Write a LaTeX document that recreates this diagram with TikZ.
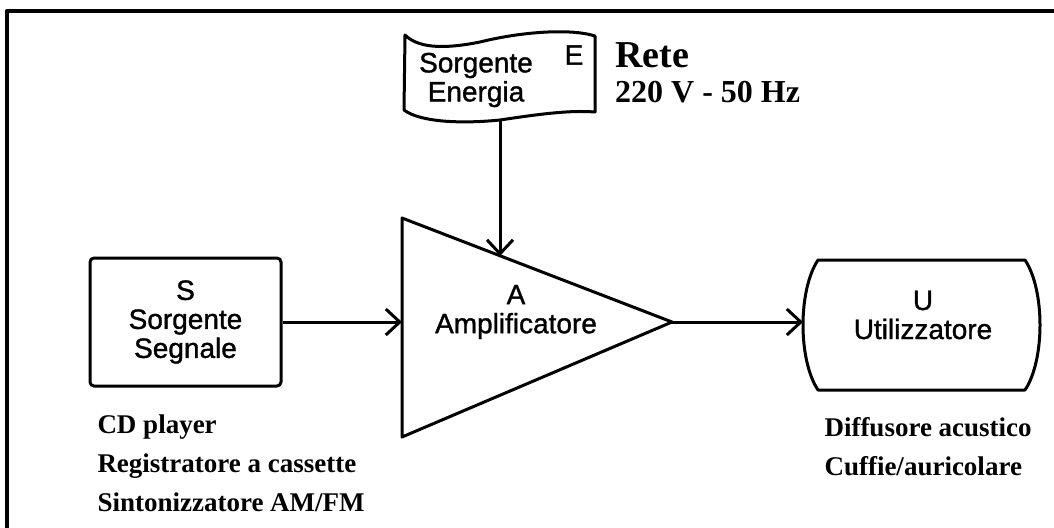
\documentclass[tikz,border=0pt]{standalone}
\usepackage{fontspec}
\setmainfont{Liberation Serif}
\newfontfamily\sansblocchi[FakeBold=1.2]{Liberation Sans}
\usetikzlibrary{arrows.meta}
\tikzset{
  freccia/.style={-{Straight Barb[length=7pt,width=13pt]}},
  blocco/.style={font=\sansblocchi\fontsize{14}{14.5}\selectfont,align=center},
  nota/.style={font=\bfseries\fontsize{13.5}{19.5}\selectfont,align=left,anchor=north west,inner sep=0pt},
}
\begin{document}
\begin{tikzpicture}[x=0.5pt,y=-0.5pt,line width=1.5pt,line join=round]
  \useasboundingbox (0,0) rectangle (1054,527);
  \draw[line width=2pt] (7,560) |- (1080,11);

  \begin{scope}
    \node[draw,rounded corners=2pt,minimum width=95.5pt,minimum height=64pt,blocco] (S) at (185.5,322) {S\\Sorgente\\Segnale};
    \node[nota] (Snote) at (96,413) {CD player\\Registratore a cassette\\Sintonizzatore AM/FM};
  \end{scope}

  \begin{scope}
    \coordinate (Ain) at (402,322);
    \coordinate (Aout) at (672,322);
    \coordinate (Atop) at (500,256);
    \draw (402,218) -- (Aout) -- (402,437) -- cycle;
    \node[blocco] (A) at (516,312) {A\\Amplificatore};
  \end{scope}

  \begin{scope}
    \draw (405,35) .. controls (420,50) and (450,48) .. (480,42)
      .. controls (520,32) and (570,28) .. (595,36) -- (595,112)
      .. controls (570,110) and (540,114) .. (500,120)
      .. controls (460,124) and (420,122) .. (404,110) -- cycle;
    \coordinate (Etail) at (500,120);
    \node[blocco] (E) at (476,80) {Sorgente\\Energia};
    \node[blocco] (Elab) at (574,55) {E};
    \node[font=\bfseries\fontsize{19}{20}\selectfont,anchor=base west] (Rete) at (607,67) {Rete};
    \node[font=\bfseries\fontsize{16}{17}\selectfont,anchor=base west] (Volt) at (607,102) {220 V - 50 Hz};
  \end{scope}

  \begin{scope}
    \draw (818,260) -- (1025,260) .. controls (1045,290) and (1045,360) .. (1025,390)
      -- (818,390) .. controls (798,360) and (798,290) .. (818,260) -- cycle;
    \coordinate (Uin) at (803,322);
    \node[blocco] (U) at (923,315) {U\\Utilizzatore};
    \node[nota] (Unote) at (823,416) {Diffusore acustico\\Cuffie/auricolare};
  \end{scope}

  \draw[freccia] (S.east) -- (Ain);
  \draw[freccia] (Etail) -- (Atop);
  \draw[freccia] (Aout) -- (Uin);
\end{tikzpicture}
\end{document}
